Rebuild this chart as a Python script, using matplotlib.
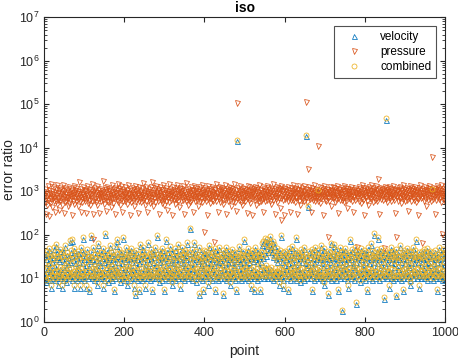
import numpy as np
import matplotlib.pyplot as plt

# error ratio per point (1000 points each)
velocity = [
    11, 33, 10, 27, 14, 8, 38, 16, 22, 12, 9, 44, 18, 29, 9, 13, 35, 6, 24, 11,
    15, 31, 10, 48, 12, 20, 14, 9, 55, 17, 27, 10, 37, 7, 13, 30, 11, 25, 16, 42,
    10, 33, 12, 6, 28, 14, 39, 9, 16, 23, 11, 52, 10, 29, 18, 8, 35, 13, 21, 12,
    30, 10, 14, 68, 24, 11, 40, 15, 9, 32, 70, 12, 26, 6, 13, 45, 10, 22, 16, 34,
    12, 29, 9, 14, 38, 17, 24, 10, 6, 31, 11, 48, 15, 22, 10, 13, 37, 80, 27, 11,
    9, 33, 16, 20, 12, 6, 42, 14, 27, 10, 18, 30, 5, 11, 25, 90, 13, 35, 10, 28,
    15, 11, 46, 9, 22, 14, 33, 17, 10, 26, 7, 39, 12, 58, 16, 24, 10, 31, 13, 20,
    11, 37, 10, 15, 29, 6, 45, 13, 23, 9, 100, 33, 12, 27, 18, 10, 40, 14, 25, 8,
    16, 31, 12, 52, 10, 22, 13, 35, 9, 17, 27, 11, 38, 5, 15, 29, 10, 20, 14, 55,
    12, 33, 70, 15, 24, 10, 42, 13, 8, 29, 11, 37, 18, 22, 10, 80, 14, 30, 9, 34,
    16, 25, 11, 48, 10, 27, 14, 7, 33, 17, 20, 12, 39, 9, 29, 15, 10, 45, 13, 23,
    12, 30, 16, 6, 35, 10, 24, 4, 13, 40, 9, 27, 18, 11, 33, 5, 22, 14, 54, 10,
    29, 15, 11, 37, 9, 25, 13, 46, 10, 31, 17, 6, 20, 12, 35, 16, 27, 10, 62, 14,
    33, 11, 22, 16, 9, 42, 13, 29, 10, 5, 37, 12, 24, 18, 31, 10, 48, 14, 20, 11,
    90, 15, 33, 10, 27, 13, 8, 39, 12, 23, 17, 30, 9, 45, 14, 25, 11, 35, 16, 5,
    29, 10, 70, 13, 20, 12, 40, 18, 9, 26, 14, 33, 10, 50, 15, 24, 11, 7, 37, 13,
    22, 10, 30, 16, 12, 45, 9, 27, 14, 35, 17, 21, 11, 55, 10, 29, 15, 6, 38, 12,
    24, 13, 33, 10, 48, 16, 22, 11, 31, 9, 40, 18, 27, 12, 35, 14, 60, 10, 20, 15,
    37, 11, 29, 13, 135, 10, 24, 17, 42, 9, 30, 16, 60, 12, 22, 14, 39, 10, 8, 27,
    15, 33, 11, 25, 13, 4, 46, 10, 29, 18, 20, 12, 35, 9, 26, 16, 5, 40, 14, 22,
    11, 30, 10, 38, 15, 24, 13, 7, 33, 12, 52, 17, 22, 10, 29, 14, 42, 9, 27, 16,
    35, 12, 20, 13, 31, 5, 45, 10, 25, 15, 37, 11, 29, 9, 23, 14, 48, 18, 26, 10,
    33, 14, 21, 12, 40, 4, 29, 16, 10, 35, 13, 24, 9, 46, 11, 31, 17, 22, 10, 38,
    13, 27, 12, 7, 33, 15, 24, 10, 42, 14, 30, 11, 20, 18, 37, 9, 28, 13, 5, 25,
    14500, 12, 35, 10, 27, 16, 50, 13, 22, 11, 33, 9, 29, 17, 39, 10, 24, 14, 70, 12,
    31, 15, 20, 10, 37, 13, 27, 9, 45, 12, 23, 18, 33, 10, 6, 29, 14, 40, 11, 25,
    16, 35, 10, 5, 27, 13, 48, 12, 30, 9, 22, 15, 39, 11, 29, 10, 33, 17, 5, 24,
    13, 37, 58, 12, 29, 16, 65, 10, 45, 14, 75, 11, 33, 18, 54, 10, 70, 15, 40, 12,
    62, 14, 48, 85, 10, 52, 16, 39, 12, 66, 9, 30, 13, 56, 11, 35, 15, 27, 10, 45,
    13, 23, 12, 33, 15, 7, 29, 10, 40, 14, 90, 11, 24, 17, 35, 9, 6, 30, 13, 20,
    12, 39, 16, 27, 10, 33, 13, 5, 22, 11, 45, 18, 29, 9, 35, 14, 24, 12, 50, 15,
    30, 10, 20, 13, 40, 12, 80, 9, 27, 16, 37, 11, 23, 17, 33, 10, 29, 14, 8, 42,
    11, 24, 15, 35, 10, 29, 13, 46, 9, 22, 12, 19000, 33, 18, 27, 10, 430, 14, 20, 12,
    39, 16, 31, 10, 24, 13, 42, 12, 5, 29, 17, 35, 9, 22, 15, 48, 11, 27, 10, 33,
    14, 1000, 12, 40, 16, 24, 10, 30, 13, 52, 11, 22, 9, 37, 18, 27, 10, 7, 45, 13,
    29, 12, 33, 15, 20, 10, 39, 13, 4, 27, 11, 35, 17, 24, 9, 60, 14, 31, 12, 42,
    10, 29, 16, 55, 12, 22, 13, 33, 9, 40, 18, 27, 11, 5, 31, 15, 24, 10, 48, 14,
    35, 1.8, 20, 12, 39, 16, 27, 10, 29, 13, 45, 11, 22, 17, 33, 9, 30, 14, 6, 24,
    15, 37, 12, 70, 10, 27, 13, 42, 11, 20, 18, 33, 9, 29, 16, 48, 2.6, 24, 12, 39,
    14, 31, 10, 22, 15, 35, 12, 8, 45, 13, 27, 10, 33, 17, 20, 11, 40, 16, 29, 9,
    24, 13, 37, 12, 5, 30, 15, 46, 10, 22, 14, 33, 11, 27, 18, 58, 9, 39, 13, 29,
    12, 100, 24, 16, 35, 10, 30, 13, 42, 11, 22, 80, 33, 9, 27, 15, 39, 12, 20, 14,
    45, 10, 29, 17, 33, 12, 3.3, 24, 13, 40, 11, 44000, 31, 10, 22, 16, 37, 13, 6, 27,
    12, 35, 15, 24, 10, 48, 14, 29, 9, 39, 11, 22, 18, 33, 10, 27, 3.9, 42, 13, 30,
    11, 20, 16, 35, 10, 27, 13, 52, 12, 24, 9, 37, 17, 29, 10, 5, 40, 14, 22, 12,
    33, 15, 27, 10, 45, 13, 20, 11, 31, 18, 39, 9, 7, 24, 14, 35, 12, 29, 16, 48,
    10, 22, 13, 33, 12, 40, 70, 27, 15, 30, 10, 24, 14, 37, 11, 6, 29, 17, 20, 10,
    39, 13, 31, 12, 27, 16, 42, 10, 22, 14, 35, 11, 29, 9, 45, 18, 24, 12, 33, 13,
    20, 10, 39, 15, 29, 12, 1100, 13, 35, 9, 27, 17, 22, 11, 40, 10, 30, 16, 5, 24,
    14, 33, 12, 46, 10, 27, 15, 22, 11, 37, 13, 29, 9, 42, 17, 20, 12, 31, 10, 35,
]

pressure = [
    820, 560, 1100, 300, 690, 950, 480, 760, 1300, 620, 880, 270, 1040, 710, 540, 920, 1500, 650, 790, 430,
    1020, 680, 870, 590, 1250, 740, 330, 960, 610, 1120, 800, 520, 1380, 700, 890, 640, 1010, 360, 770, 1160,
    590, 930, 710, 1060, 480, 850, 1420, 660, 780, 310, 990, 570, 1190, 720, 840, 620, 1080, 750, 460, 900,
    680, 1270, 540, 810, 970, 630, 1140, 720, 290, 880, 1030, 600, 760, 1350, 500, 930, 690, 1070, 820, 580,
    1180, 740, 910, 450, 1020, 670, 850, 1600, 610, 780, 960, 340, 1110, 710, 870, 560, 1240, 800, 650, 990,
    730, 1090, 590, 860, 320, 1000, 680, 1310, 760, 540, 920, 1150, 640, 810, 470, 1040, 700, 880, 1450, 610,
    950, 300, 80, 1070, 620, 840, 1200, 710, 560, 980, 760, 1330, 490, 890, 650, 1060, 800, 310, 930, 690,
    1120, 580, 860, 740, 1010, 1700, 630, 900, 780, 520, 1190, 690, 940, 350, 1080, 740, 610, 1270, 830, 560,
    990, 720, 1140, 600, 870, 440, 1030, 770, 1380, 650, 920, 810, 530, 1100, 680, 960, 300, 1210, 740, 880,
    620, 1050, 790, 1500, 560, 910, 700, 1160, 840, 480, 1000, 660, 1290, 760, 330, 950, 610, 1080, 820, 700,
    880, 590, 1230, 730, 960, 510, 1070, 680, 840, 1400, 620, 900, 770, 290, 1130, 700, 860, 560, 1020, 750,
    1190, 640, 910, 800, 460, 1060, 720, 1320, 590, 980, 830, 670, 1110, 310, 870, 760, 1240, 610, 940, 700,
    1030, 550, 860, 1160, 740, 630, 1550, 810, 690, 920, 480, 1080, 760, 1280, 600, 890, 340, 1010, 720, 850,
    640, 1140, 780, 970, 530, 1220, 700, 850, 1650, 610, 930, 800, 450, 1070, 690, 1190, 560, 900, 770, 1340,
    720, 980, 580, 1110, 830, 300, 1000, 670, 890, 1260, 620, 760, 1050, 540, 940, 710, 1380, 650, 860, 490,
    1090, 740, 920, 600, 1200, 820, 360, 1030, 690, 880, 1470, 570, 960, 790, 1130, 640, 850, 720, 280, 1010,
    780, 1250, 630, 900, 1060, 700, 520, 1170, 840, 660, 990, 1360, 610, 870, 750, 1080, 430, 930, 800, 1210,
    590, 960, 730, 1120, 850, 640, 1290, 770, 300, 1000, 690, 910, 1580, 580, 830, 1040, 720, 470, 980, 650,
    1150, 810, 560, 940, 700, 1230, 630, 870, 1080, 760, 330, 990, 680, 1310, 820, 590, 1060, 740, 900, 1170,
    640, 880, 1020, 720, 460, 1140, 790, 950, 610, 1270, 850, 700, 1030, 560, 1410, 760, 920, 115, 680, 1090,
    830, 1190, 610, 970, 740, 290, 1060, 880, 650, 1330, 790, 920, 540, 1100, 710, 860, 1020, 630, 1240, 770,
    950, 580, 1130, 68, 820, 690, 1050, 760, 1480, 600, 910, 840, 330, 1180, 720, 990, 650, 1270, 800, 560,
    1040, 730, 880, 1200, 620, 960, 500, 1090, 780, 1360, 670, 930, 810, 300, 1150, 700, 870, 1010, 590, 1280,
    760, 940, 640, 1070, 850, 450, 1210, 720, 990, 600, 1130, 830, 680, 1450, 560, 920, 770, 1050, 350, 880,
    104000, 690, 1160, 800, 620, 1020, 740, 910, 1290, 570, 860, 1080, 710, 480, 950, 640, 1190, 820, 730, 1000,
    600, 1120, 780, 930, 310, 1060, 700, 850, 1350, 640, 990, 760, 540, 1220, 820, 680, 1040, 890, 280, 1150,
    720, 960, 830, 1100, 620, 1280, 750, 470, 1010, 870, 660, 1170, 790, 940, 560, 1390, 710, 1050, 830, 600,
    1080, 760, 920, 650, 1240, 810, 340, 990, 700, 1130, 580, 880, 1020, 740, 1310, 630, 960, 800, 1160, 690,
    850, 1060, 610, 930, 1200, 770, 500, 1090, 720, 890, 1430, 640, 1000, 820, 300, 1140, 750, 910, 660, 1270,
    790, 570, 1040, 880, 710, 1180, 930, 420, 1100, 680, 220, 1320, 760, 990, 620, 1070, 860, 290, 1210, 730,
    1020, 650, 870, 1150, 740, 960, 580, 1250, 800, 690, 1060, 330, 920, 770, 1180, 620, 890, 1010, 710, 1370,
    640, 930, 820, 1090, 560, 1200, 740, 980, 680, 300, 1120, 860, 720, 1040, 600, 1290, 790, 910, 470, 1060,
    870, 710, 1170, 630, 950, 820, 1330, 590, 1000, 760, 880, 110000, 690, 1140, 810, 560, 1050, 930, 3300, 720,
    1230, 660, 900, 780, 1080, 340, 970, 710, 1190, 850, 620, 1010, 740, 1400, 580, 920, 800, 1110, 680, 960,
    760, 11000, 610, 1070, 880, 720, 1250, 530, 990, 830, 680, 1160, 770, 940, 290, 1060, 720, 870, 1320, 640,
    1000, 790, 920, 580, 1130, 850, 89, 700, 1040, 940, 610, 1220, 760, 890, 460, 1080, 730, 990, 820, 1280,
    680, 950, 1090, 740, 560, 1180, 830, 970, 650, 1350, 790, 310, 1020, 710, 900, 1130, 620, 860, 1040, 750,
    920, 640, 1210, 810, 690, 1070, 560, 950, 1290, 730, 870, 1020, 600, 1160, 780, 420, 990, 850, 1100, 700,
    830, 1140, 670, 960, 790, 1260, 580, 1030, 880, 720, 330, 1090, 760, 940, 1180, 640, 910, 800, 52, 1070,
    690, 1000, 860, 1220, 610, 930, 780, 1120, 540, 970, 820, 1380, 700, 880, 1050, 630, 290, 1160, 750, 990,
    840, 1190, 720, 960, 600, 1090, 810, 480, 1240, 770, 930, 680, 1060, 870, 1420, 650, 990, 760, 1130, 560,
    1010, 740, 890, 1170, 640, 950, 820, 1300, 700, 1040, 590, 1900, 860, 730, 1120, 300, 980, 800, 1210, 670,
    900, 1060, 760, 620, 1150, 840, 50, 970, 710, 1280, 880, 650, 1030, 790, 1180, 560, 940, 1090, 720, 860,
    1220, 680, 990, 820, 1110, 590, 960, 760, 1340, 700, 870, 1050, 630, 310, 1140, 800, 89, 920, 1070, 740,
    1000, 830, 610, 1160, 750, 940, 1270, 680, 880, 540, 1080, 790, 1010, 660, 1380, 720, 900, 1130, 580, 970,
    780, 1050, 870, 640, 1200, 730, 990, 350, 1110, 820, 690, 1320, 760, 930, 1060, 600, 880, 1180, 710, 1000,
    840, 620, 1150, 780, 960, 1270, 560, 1030, 700, 890, 1090, 650, 280, 1190, 760, 940, 1400, 810, 690, 1040,
    920, 65, 730, 1120, 860, 610, 1010, 790, 1250, 680, 950, 450, 1080, 720, 870, 1160, 640, 1030, 800, 1340,
    700, 990, 1130, 580, 910, 760, 6200, 1060, 840, 660, 1200, 770, 1000, 300, 930, 1110, 620, 880, 1290, 740,
    960, 810, 1080, 650, 1180, 720, 900, 1040, 560, 1360, 790, 105, 1010, 690, 870, 1150, 620, 960, 1230, 780,
]

combined = [
    12, 36, 11, 30, 16, 9, 42, 18, 25, 13, 10, 49, 20, 32, 10, 15, 38, 7, 27, 12,
    17, 34, 11, 53, 14, 22, 15, 10, 61, 19, 30, 11, 41, 8, 15, 33, 12, 28, 18, 46,
    11, 37, 13, 7, 31, 16, 43, 10, 18, 26, 12, 58, 11, 32, 20, 9, 39, 14, 24, 13,
    33, 11, 16, 76, 27, 12, 44, 17, 10, 36, 78, 13, 29, 7, 15, 50, 11, 25, 18, 37,
    13, 32, 10, 16, 42, 19, 27, 11, 7, 34, 12, 53, 17, 25, 11, 14, 41, 90, 30, 12,
    10, 36, 18, 23, 13, 7, 47, 15, 30, 11, 20, 33, 5.7, 12, 28, 100, 15, 39, 11, 31,
    17, 12, 51, 10, 25, 16, 36, 19, 11, 29, 8, 43, 13, 64, 18, 27, 11, 34, 14, 23,
    12, 41, 11, 17, 32, 7, 50, 14, 26, 10, 112, 36, 13, 30, 20, 11, 44, 16, 28, 9,
    18, 34, 13, 58, 11, 25, 15, 39, 10, 19, 30, 12, 42, 5.7, 16, 32, 11, 23, 15, 62,
    13, 36, 78, 17, 27, 11, 47, 15, 9, 32, 12, 41, 20, 25, 11, 90, 16, 33, 10, 38,
    18, 28, 12, 53, 11, 30, 16, 8, 36, 19, 23, 13, 43, 10, 32, 17, 11, 50, 14, 26,
    13, 33, 18, 7, 39, 11, 27, 4.5, 15, 44, 10, 30, 20, 12, 36, 5.6, 25, 16, 60, 11,
    32, 17, 12, 41, 10, 28, 14, 51, 11, 34, 19, 7, 23, 13, 39, 18, 30, 11, 69, 15,
    36, 12, 25, 18, 10, 47, 15, 32, 11, 5.7, 41, 13, 27, 20, 34, 11, 53, 16, 23, 12,
    100, 17, 36, 11, 30, 15, 9, 43, 13, 26, 19, 33, 10, 50, 16, 28, 12, 39, 18, 5.6,
    32, 11, 78, 15, 23, 13, 44, 20, 10, 29, 16, 36, 11, 56, 17, 27, 12, 8, 41, 14,
    25, 11, 33, 18, 13, 50, 10, 30, 16, 39, 19, 24, 12, 61, 11, 32, 17, 7, 42, 13,
    27, 15, 36, 11, 53, 18, 25, 12, 34, 10, 44, 20, 30, 13, 39, 16, 67, 11, 23, 17,
    41, 12, 32, 15, 145, 11, 27, 19, 47, 10, 33, 18, 67, 13, 25, 16, 43, 11, 9, 30,
    17, 36, 12, 28, 15, 4.5, 51, 11, 32, 20, 23, 13, 39, 10, 29, 18, 5.7, 44, 16, 25,
    12, 33, 11, 42, 17, 27, 15, 8, 36, 13, 58, 19, 25, 11, 32, 16, 47, 10, 30, 18,
    39, 13, 23, 15, 34, 5.7, 50, 11, 28, 17, 41, 12, 32, 10, 26, 16, 53, 20, 29, 11,
    36, 16, 24, 13, 44, 4.6, 32, 18, 11, 39, 15, 27, 10, 51, 12, 34, 19, 25, 11, 42,
    15, 30, 13, 8, 36, 17, 27, 11, 47, 16, 33, 12, 23, 20, 41, 10, 31, 15, 5.7, 28,
    15000, 13, 39, 11, 30, 18, 56, 15, 25, 12, 36, 10, 32, 19, 43, 11, 27, 16, 78, 13,
    34, 17, 23, 11, 41, 15, 30, 10, 50, 13, 26, 20, 36, 11, 7, 32, 16, 44, 12, 28,
    18, 39, 11, 5.7, 30, 15, 53, 13, 33, 10, 25, 17, 43, 12, 32, 11, 36, 19, 5.6, 27,
    15, 41, 64, 13, 32, 18, 72, 11, 50, 16, 83, 12, 36, 20, 60, 11, 78, 17, 44, 13,
    69, 16, 53, 95, 11, 58, 18, 43, 13, 73, 10, 33, 15, 62, 12, 39, 17, 30, 11, 50,
    15, 26, 13, 36, 17, 8, 32, 11, 44, 16, 100, 12, 27, 19, 39, 10, 7, 33, 15, 23,
    13, 43, 18, 30, 11, 36, 15, 5.7, 25, 12, 50, 20, 32, 10, 39, 16, 27, 13, 56, 17,
    33, 11, 23, 15, 44, 13, 90, 10, 30, 18, 41, 12, 26, 19, 36, 11, 32, 16, 9, 47,
    12, 27, 17, 39, 11, 32, 15, 51, 10, 25, 13, 20000, 36, 20, 30, 11, 450, 16, 23, 13,
    43, 18, 34, 11, 27, 15, 47, 13, 5.7, 32, 19, 39, 10, 25, 17, 53, 12, 30, 11, 36,
    16, 1050, 13, 44, 18, 27, 11, 33, 15, 58, 12, 25, 10, 41, 20, 30, 11, 8, 50, 15,
    32, 13, 36, 17, 23, 11, 43, 15, 4.6, 30, 12, 39, 19, 27, 10, 66, 16, 34, 13, 47,
    11, 32, 18, 61, 13, 25, 15, 36, 10, 44, 20, 30, 12, 5.7, 34, 17, 27, 11, 53, 16,
    39, 1.9, 23, 13, 43, 18, 30, 11, 32, 15, 50, 12, 25, 19, 36, 10, 33, 16, 7, 27,
    17, 41, 13, 78, 11, 30, 15, 47, 12, 23, 20, 36, 10, 32, 18, 53, 2.8, 27, 13, 43,
    16, 34, 11, 25, 17, 39, 13, 9, 50, 15, 30, 11, 36, 19, 23, 12, 44, 18, 32, 10,
    27, 15, 41, 13, 5.7, 33, 17, 51, 11, 25, 16, 36, 12, 30, 20, 64, 10, 43, 15, 32,
    13, 110, 27, 18, 39, 11, 33, 15, 47, 12, 25, 88, 36, 10, 30, 17, 43, 13, 23, 16,
    50, 11, 32, 19, 36, 13, 3.6, 27, 15, 44, 12, 47000, 34, 11, 25, 18, 41, 15, 7, 30,
    13, 39, 17, 27, 11, 53, 16, 32, 10, 43, 12, 25, 20, 36, 11, 30, 4.2, 47, 15, 33,
    12, 23, 18, 39, 11, 30, 15, 58, 13, 27, 10, 41, 19, 32, 11, 5.7, 44, 16, 25, 13,
    36, 17, 30, 11, 50, 15, 23, 12, 34, 20, 43, 10, 8, 27, 16, 39, 13, 32, 18, 53,
    11, 25, 15, 36, 13, 44, 78, 30, 17, 33, 11, 27, 16, 41, 12, 7, 32, 19, 23, 11,
    43, 15, 34, 13, 30, 18, 47, 11, 25, 16, 39, 12, 32, 10, 50, 20, 27, 13, 36, 15,
    23, 11, 43, 17, 32, 13, 1150, 15, 39, 10, 30, 19, 25, 12, 44, 11, 33, 18, 5.7, 27,
    16, 36, 13, 51, 11, 30, 17, 25, 12, 41, 15, 32, 10, 47, 19, 23, 13, 34, 11, 39,
]

assert len(velocity) == len(pressure) == len(combined) == 1000, \
    (len(velocity), len(pressure), len(combined))

point = np.arange(1, len(velocity) + 1)

plt.rcParams['font.family'] = ['Liberation Sans', 'DejaVu Sans']
plt.rcParams['mathtext.fontset'] = 'custom'
plt.rcParams['mathtext.rm'] = 'Liberation Sans'
plt.rcParams['mathtext.it'] = 'Liberation Sans'

fig = plt.figure(figsize=(4.58, 3.59), dpi=100)
ax = fig.add_axes([0.096, 0.104, 0.876, 0.848])

mk = dict(linestyle='none', markerfacecolor='none', markersize=3.6, markeredgewidth=0.55)
ax.semilogy(point, velocity, '^', color='#0072BD', label='velocity', **mk)
ax.semilogy(point, pressure, 'v', color='#D95319', label='pressure', **mk)
ax.semilogy(point, combined, 'o', color='#EDB120', label='combined', **mk)

ax.set_xlim(0, 1000)
ax.set_ylim(1, 1e7)
ax.set_xticks([0, 200, 400, 600, 800, 1000])
ax.set_yticks([10.0 ** k for k in range(8)])

gray = '#262626'
for s in ax.spines.values():
    s.set_color(gray)
    s.set_linewidth(0.8)
ax.tick_params(which='both', direction='in', top=True, right=True, colors=gray,
               labelsize=9)
ax.tick_params(which='major', length=3.5)
ax.tick_params(which='minor', length=2)

ax.set_xlabel('point', fontsize=10, color=gray)
ax.set_ylabel('error ratio', fontsize=10, color=gray, labelpad=2)
ax.set_title('iso', fontsize=10, fontweight='bold', pad=4)

leg = ax.legend(loc='upper right', bbox_to_anchor=(0.977, 0.97), fontsize=8.5,
                frameon=True, fancybox=False, handlelength=2.6, handletextpad=0.9,
                borderpad=0.4, labelspacing=0.25, borderaxespad=0)
leg.get_frame().set_edgecolor(gray)
leg.get_frame().set_linewidth(0.8)

fig.savefig('out.png', dpi=100)
